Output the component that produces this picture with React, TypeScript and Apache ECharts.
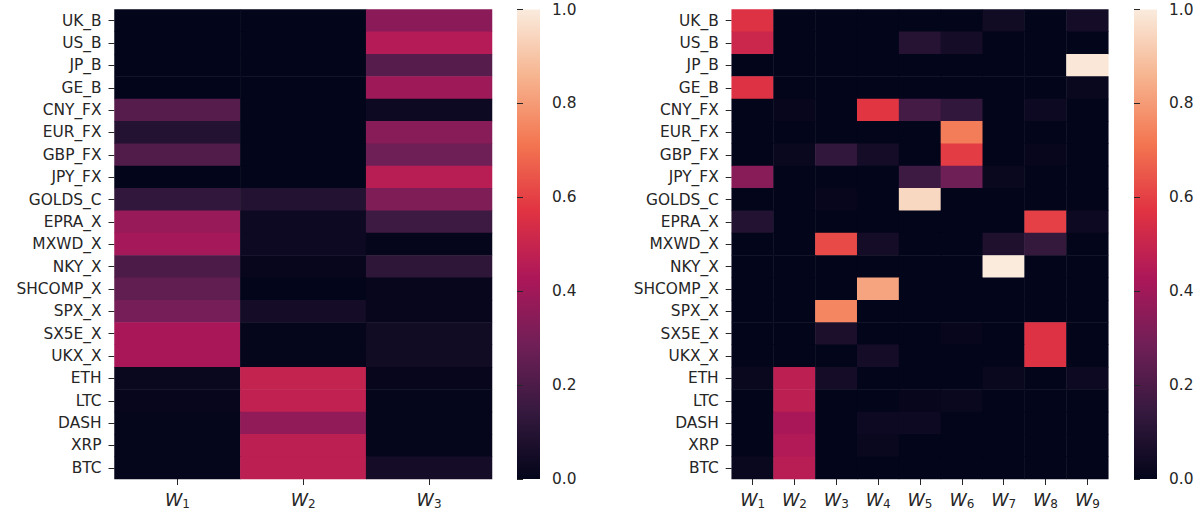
import React, { useEffect, useRef } from "react";
import * as echarts from "echarts";

// Asset rows, top to bottom
const assets = [
  "UK_B", "US_B", "JP_B", "GE_B", "CNY_FX", "EUR_FX", "GBP_FX", "JPY_FX",
  "GOLDS_C", "EPRA_X", "MXWD_X", "NKY_X", "SHCOMP_X", "SPX_X", "SX5E_X",
  "UKX_X", "ETH", "LTC", "DASH", "XRP", "BTC",
];

const factorsThree = ["W1", "W2", "W3"];
const factorsNine = ["W1", "W2", "W3", "W4", "W5", "W6", "W7", "W8", "W9"];

// Loadings per asset for the 3-factor model (W1, W2, W3)
const loadingsThree: number[][] = [
  [0.0, 0.0, 0.35],
  [0.0, 0.0, 0.45],
  [0.0, 0.0, 0.22],
  [0.0, 0.0, 0.39],
  [0.22, 0.0, 0.03],
  [0.09, 0.0, 0.34],
  [0.21, 0.0, 0.28],
  [0.0, 0.0, 0.46],
  [0.13, 0.09, 0.32],
  [0.38, 0.03, 0.16],
  [0.41, 0.03, 0.005],
  [0.2, 0.01, 0.12],
  [0.25, 0.0, 0.01],
  [0.3, 0.05, 0.01],
  [0.42, 0.005, 0.04],
  [0.42, 0.005, 0.04],
  [0.02, 0.49, 0.01],
  [0.01, 0.48, 0.005],
  [0.005, 0.36, 0.005],
  [0.005, 0.47, 0.005],
  [0.005, 0.47, 0.05],
];

// Loadings per asset for the 9-factor model (W1 .. W9)
const loadingsNine: number[][] = [
  [0.56, 0, 0, 0, 0, 0, 0.04, 0, 0.05],
  [0.51, 0, 0, 0, 0.1, 0.05, 0, 0, 0],
  [0, 0, 0, 0, 0, 0, 0, 0, 0.99],
  [0.56, 0, 0, 0, 0, 0, 0, 0, 0.02],
  [0, 0.01, 0, 0.575, 0.18, 0.13, 0, 0.03, 0],
  [0, 0, 0, 0, 0, 0.73, 0, 0, 0],
  [0, 0.02, 0.13, 0.05, 0, 0.59, 0, 0.01, 0],
  [0.34, 0, 0, 0, 0.16, 0.28, 0.02, 0, 0],
  [0, 0, 0.01, 0, 0.95, 0, 0, 0, 0],
  [0.09, 0, 0, 0, 0, 0, 0, 0.6, 0.03],
  [0, 0, 0.62, 0.05, 0, 0, 0.08, 0.14, 0],
  [0, 0, 0, 0, 0, 0, 1.0, 0, 0],
  [0, 0, 0, 0.82, 0, 0, 0, 0, 0],
  [0, 0, 0.75, 0, 0, 0, 0, 0, 0],
  [0, 0, 0.07, 0, 0, 0.01, 0, 0.56, 0],
  [0, 0, 0, 0.05, 0, 0, 0, 0.56, 0],
  [0.02, 0.47, 0.05, 0, 0, 0, 0.02, 0, 0.03],
  [0, 0.47, 0, 0, 0.01, 0.02, 0, 0, 0],
  [0, 0.42, 0, 0.03, 0.03, 0, 0, 0, 0],
  [0, 0.44, 0, 0.02, 0, 0, 0, 0, 0],
  [0.02, 0.46, 0, 0, 0, 0, 0, 0, 0],
];

const colorbarTicks = [0, 0.2, 0.4, 0.6, 0.8, 1.0];

// "rocket" colour ramp, evenly spaced stops from 0 to 1
const rocket = [
  "#03051a", "#35193e", "#701f57", "#ad1759",
  "#e13342", "#f37651", "#f6b48f", "#faebdd",
];

const FONT = "DejaVu Sans";
const INK = "#262626";
const LABEL_SIZE = 15.4;

function toCells(matrix: number[][]) {
  const cells: [number, number, number][] = [];
  matrix.forEach((row, r) => row.forEach((v, c) => cells.push([c, r, v])));
  return cells;
}

const factorLabel = (v: string) => `{w|W}{s|${v.slice(1)}}`;

export default function App() {
  const ref = useRef<HTMLDivElement>(null);

  useEffect(() => {
    if (!ref.current) return;
    const chart = echarts.init(ref.current, null, { renderer: "svg" });

    const gradient = new echarts.graphic.LinearGradient(
      0, 1, 0, 0,
      rocket.map((color, i) => ({ offset: i / (rocket.length - 1), color }))
    );

    const top = 9.5;
    const height = 469.5;
    const heatGrids = [
      { left: 114.5, top, width: 377.5, height },
      { left: 731.7, top, width: 376.6, height },
    ];
    const barGrids = [
      { left: 517, top, width: 23, height, show: true, backgroundColor: gradient, borderWidth: 0 },
      { left: 1134, top, width: 23, height, show: true, backgroundColor: gradient, borderWidth: 0 },
    ];

    const catX = (data: string[], gridIndex: number) => ({
      type: "category",
      gridIndex,
      data,
      axisLine: { show: false },
      axisTick: { show: true, length: 6, interval: 0, lineStyle: { color: INK, width: 1 }, alignWithLabel: true },
      splitLine: { show: false },
      axisLabel: {
        margin: 10,
        interval: 0,
        formatter: factorLabel,
        rich: {
          w: { fontFamily: FONT, fontStyle: "italic", fontSize: 17.5, color: INK },
          s: { fontFamily: FONT, fontSize: 12, color: INK, padding: [9, 0, 0, 0] },
        },
      },
    });

    const catY = (gridIndex: number) => ({
      type: "category",
      gridIndex,
      data: assets,
      inverse: true,
      axisLine: { show: false },
      axisTick: { show: true, length: 6, interval: 0, lineStyle: { color: INK, width: 1 }, alignWithLabel: true },
      splitLine: { show: false },
      axisLabel: { margin: 13, interval: 0, fontFamily: FONT, fontSize: LABEL_SIZE, color: INK },
    });

    const barX = (gridIndex: number) => ({
      type: "value",
      gridIndex,
      min: 0,
      max: 1,
      show: false,
    });

    const barY = (gridIndex: number) => ({
      type: "value",
      gridIndex,
      position: "right",
      min: 0,
      max: 1,
      interval: 0.2,
      axisLine: { show: false },
      splitLine: { show: false },
      axisTick: { show: true, length: 6, lineStyle: { color: INK, width: 1 } },
      axisLabel: {
        margin: 12,
        fontFamily: FONT,
        fontSize: LABEL_SIZE,
        color: INK,
        formatter: (v: number) => v.toFixed(1),
        customValues: colorbarTicks,
      },
    });

    chart.setOption({
      animation: false,
      backgroundColor: "#ffffff",
      grid: [heatGrids[0], barGrids[0], heatGrids[1], barGrids[1]],
      xAxis: [catX(factorsThree, 0), barX(1), catX(factorsNine, 2), barX(3)],
      yAxis: [catY(0), barY(1), catY(2), barY(3)],
      visualMap: {
        type: "continuous",
        show: false,
        min: 0,
        max: 1,
        seriesIndex: [0, 1],
        inRange: { color: rocket },
      },
      series: [
        {
          type: "heatmap",
          xAxisIndex: 0,
          yAxisIndex: 0,
          data: toCells(loadingsThree),
          itemStyle: { borderWidth: 0 },
          emphasis: { disabled: true },
        },
        {
          type: "heatmap",
          xAxisIndex: 2,
          yAxisIndex: 2,
          data: toCells(loadingsNine),
          itemStyle: { borderWidth: 0 },
          emphasis: { disabled: true },
        },
      ],
    });

    return () => chart.dispose();
  }, []);

  return (
    <div
      ref={ref}
      style={{ position: "fixed", left: 0, top: 0, width: 1203, height: 515, background: "#fff" }}
    />
  );
}
